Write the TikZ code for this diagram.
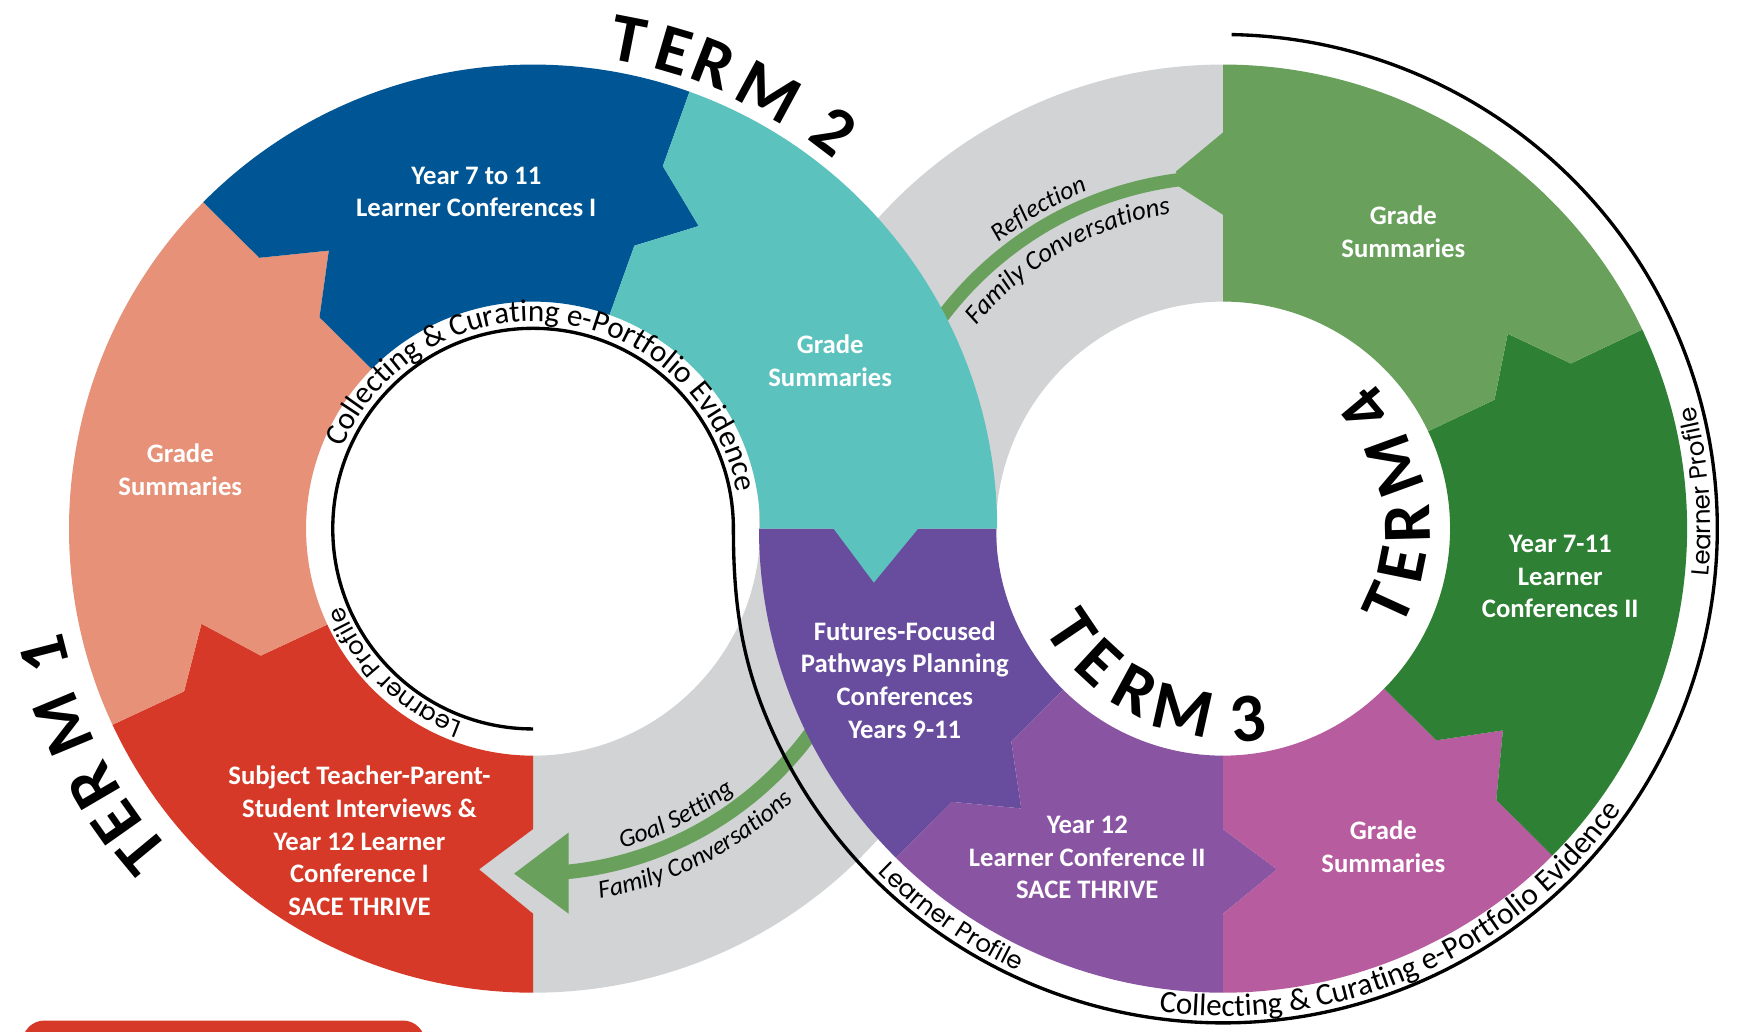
\documentclass[tikz,border=0pt]{standalone}
\usepackage{fontspec}
\setmainfont{Carlito}
\newfontfamily\lpfont{Poppins}
\usetikzlibrary{decorations.text,calc}

\definecolor{cblue}{RGB}{0,86,149}
\definecolor{cteal}{RGB}{92,194,190}
\definecolor{csalmon}{RGB}{230,145,120}
\definecolor{cred}{RGB}{214,57,39}
\definecolor{cgray}{RGB}{209,211,212}
\definecolor{clgreen}{RGB}{104,160,92}
\definecolor{cdgreen}{RGB}{46,128,52}
\definecolor{cmagenta}{RGB}{184,92,160}
\definecolor{cviolet}{RGB}{137,84,161}
\definecolor{cpurple}{RGB}{104,76,158}

% segment with notch at start and spike at end
\newcommand\ringseg[5]{%
 \fill[#5,shift={(#1)}] (#2:204) -- (#2:270) -- ({#2+(#4)}:310) -- (#2:346) -- (#2:417)
   arc[start angle=#2,end angle=#3,radius=417] -- (#3:346) -- ({#3+(#4)}:310) -- (#3:270) -- (#3:204)
   arc[start angle=#3,end angle=#2,radius=204] -- cycle;}
% segment without notch, with spike
\newcommand\ringsegnn[5]{%
 \fill[#5,shift={(#1)}] (#2:204) -- (#2:417)
   arc[start angle=#2,end angle=#3,radius=417] -- (#3:346) -- ({#3+(#4)}:310) -- (#3:270) -- (#3:204)
   arc[start angle=#3,end angle=#2,radius=204] -- cycle;}
% plain sector
\newcommand\ringsec[4]{%
 \fill[#4,shift={(#1)}] (#2:204) -- (#2:417)
   arc[start angle=#2,end angle=#3,radius=417] -- (#3:204)
   arc[start angle=#3,end angle=#2,radius=204] -- cycle;}
% TERM letters: outward / inward tops
\newcommand\tout[5]{\node[termfont,rotate={-(#2)-90}] (#5) at ($(#1)+(#2:#3)$) {#4};}
\newcommand\tin[5]{\node[termfont,rotate={90-(#2)}] (#5) at ($(#1)+(#2:#3)$) {#4};}

\begin{document}
\begin{tikzpicture}[x=1pt,y=-1pt,
  lbl/.style={text=white,font=\bfseries\fontsize{24}{29.5}\selectfont,align=center,inner sep=0pt},
  termfont/.style={font=\bfseries\fontsize{62}{62}\selectfont,inner sep=0pt,text=black},
  blk/.style={line width=3pt,black},
  arrowshaft/.style={clgreen,line width=13pt}]
\useasboundingbox (0,0) rectangle (1568,927);
\clip (0,0) rectangle (1568,927);
\fill[white] (0,0) rectangle (1568,927);
\coordinate (L) at (479,475);
\coordinate (R) at (1099,475);

% ---------- left ring: gray part and goal-setting arrow
\ringseg{L}{0}{90}{9}{cgray}
\draw[arrowshaft,shift={(L)}] (32:310) arc[start angle=32,end angle=85,radius=310];
\fill[clgreen,shift={(L)}] (32,273) -- (-17,310) -- (32,346) -- cycle;
\path[decorate,decoration={text along path,text align=center,
  text={|\itshape\fontsize{23}{23}\selectfont|Goal Setting}}]
  ($(L)+(86:298)$) arc[start angle=86,end angle=41,radius=298];
\path[decorate,decoration={text along path,text align=center,
  text={|\itshape\fontsize{23}{23}\selectfont|Family Conversations}}]
  ($(L)+(93:338)$) arc[start angle=93,end angle=33,radius=338];

% ---------- right ring
\ringsec{R}{180}{270}{cgray}
\ringsegnn{R}{180}{134.8}{-9}{cpurple}
\ringseg{R}{134.8}{90}{-9}{cviolet}
\ringseg{R}{90}{44.8}{-9}{cmagenta}
\ringseg{R}{44.8}{-25.4}{-9}{cdgreen}
\fill[clgreen,shift={(R)}] (-25.4:204) -- (-25.4:270) -- (-34.4:310) -- (-25.4:346) -- (-25.4:417)
   arc[start angle=-25.4,end angle=-90,radius=417] -- (-90:204)
   arc[start angle=-90,end angle=-25.4,radius=204] -- cycle;
\fill[clgreen,shift={(R)}] (0,-356) -- (-42.2,-321) -- (-40.6,-308) -- (0,-282) -- cycle;
\draw[clgreen,line width=12pt,shift={(R)}] (263.5:316) arc[start angle=263.5,end angle=205,radius=316];
\path[decorate,decoration={text along path,text align=center,
  text={|\itshape\fontsize{23}{23}\selectfont|Reflection}}]
  ($(R)+(222:327)$) arc[start angle=222,end angle=258,radius=327];
\path[decorate,decoration={text along path,text align=center,
  text={|\itshape\fontsize{24}{24}\selectfont|Family Conversations}}]
  ($(R)+(212:287)$) arc[start angle=212,end angle=268,radius=287];

% ---------- left ring coloured parts
\ringseg{L}{90}{155}{9}{cred}
\ringseg{L}{155}{224.7}{9}{csalmon}
\ringseg{L}{224.7}{289.7}{9}{cblue}
\ringseg{L}{289.7}{360}{9}{cteal}

% ---------- black figure-eight line
\coordinate (c1) at (659,535);
\coordinate (c2) at (664.8,585.7);
\coordinate (jn) at (687.33,641.33);
\draw[blk] ($(L)+(90:180)$) arc[start angle=90,end angle=360,radius=180]
   .. controls (c1) and (c2) .. (jn)
   arc[start angle=158,end angle=-89,radius=444];

% texts along the line
\path[decorate,decoration={text along path,text align=center,
  text={|\fontsize{28}{28}\selectfont|Collecting {\&} Curating e-Portfolio Evidence}}]
  ($(L)+(186:186)$) arc[start angle=186,end angle=367,radius=186];
\path[decorate,decoration={text along path,text align=center,
  text={|\lpfont\fontsize{22}{22}\selectfont|Learner Profile}}]
  ($(L)+(100:185)$) arc[start angle=100,end angle=168,radius=185];
\path[decorate,decoration={text along path,text align=center,
  text={|\lpfont\fontsize{22}{22}\selectfont|Learner Profile}}]
  ($(R)+(150:438)$) arc[start angle=150,end angle=100,radius=438];
\path[decorate,decoration={text along path,text align=center,
  text={|\fontsize{28}{28}\selectfont|Collecting {\&} Curating e-Portfolio Evidence}}]
  ($(R)+(106:438)$) arc[start angle=106,end angle=26.8,radius=438];
\path[decorate,decoration={text along path,text align=center,
  text={|\lpfont\fontsize{22}{22}\selectfont|Learner Profile}}]
  ($(R)+(20:438)$) arc[start angle=20,end angle=-29,radius=438];

% ---------- TERM labels
\tout{L}{-78.9}{448}{T}{t2a}
\tout{L}{-73.6}{448}{E}{t2b}
\tout{L}{-68.7}{448}{R}{t2c}
\tout{L}{-61.6}{446}{M}{t2d}
\tout{L}{-52.8}{448}{2}{t2e}

\tout{L}{140.4}{456}{T}{t1a}
\tout{L}{144.8}{458}{E}{t1b}
\tout{L}{149.6}{458}{R}{t1c}
\tout{L}{157.4}{457}{M}{t1d}
\tout{L}{165.6}{453}{1}{t1e}

\tin{R}{146}{164}{T}{t3a}
\tin{R}{132.7}{164}{E}{t3b}
\tin{R}{118.5}{165}{R}{t3c}
\tin{R}{102.5}{167}{M}{t3d}
\tin{R}{82.5}{173}{3}{t3e}

\tin{R}{24.5}{163}{T}{t4a}
\tin{R}{11.5}{164}{E}{t4b}
\tin{R}{-1.5}{166}{R}{t4c}
\tin{R}{-20}{164}{M}{t4d}
\tin{R}{-39.9}{167}{4}{t4e}

% ---------- white labels
\node[lbl] (lblue) at (428,172.5) {Year 7 to 11\\Learner Conferences I};
\node[lbl] (lsalmon) at (162,422) {Grade\\Summaries};
\node[lbl] (lteal) at (746,324) {Grade\\Summaries};
\node[lbl] (lred) at (323,755.5) {Subject Teacher-Parent-\\Student Interviews \&\\Year 12 Learner\\Conference I\\SACE THRIVE};
\node[lbl] (llgreen) at (1261,208.5) {Grade\\Summaries};
\node[lbl] (ldgreen) at (1402,518) {Year 7-11\\Learner\\Conferences II};
\node[lbl] (lmagenta) at (1243,760.5) {Grade\\Summaries};
\node[lbl] (lviolet) at (977,770.5) {Year 12\\Learner Conference II\\SACE THRIVE};
\node[lbl] (lpurple) at (813,611) {Futures-Focused\\Pathways Planning\\Conferences\\Years 9-11};

% ---------- red box at bottom left (cut off)
\fill[cred,rounded corners=20pt] (20,917) rectangle (382,990);
\end{tikzpicture}
\end{document}
